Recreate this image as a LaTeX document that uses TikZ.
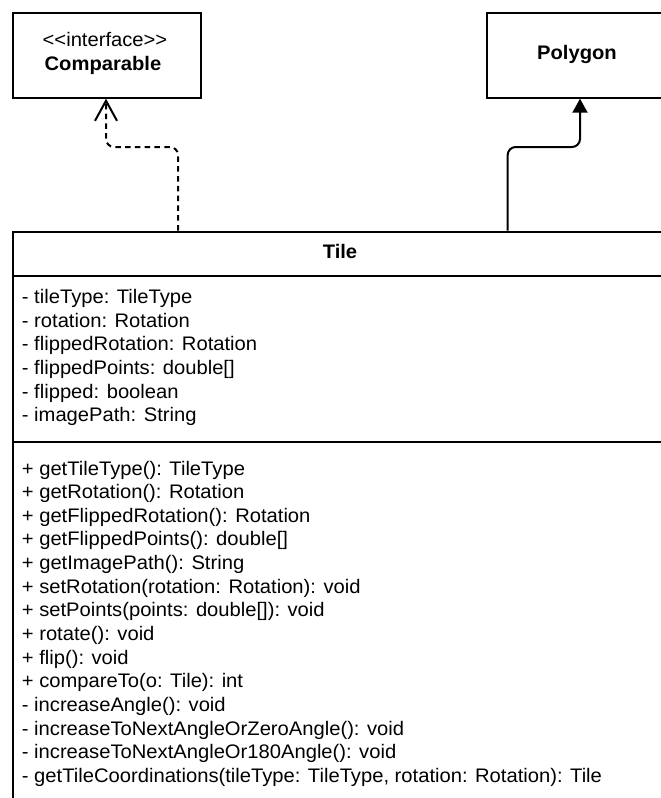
\documentclass[tikz,border=0pt]{standalone}
\usepackage{fontspec}
\setmainfont{Liberation Sans}[FakeStretch=1.03]
\usetikzlibrary{arrows.meta}
\begin{document}
\begin{tikzpicture}[x=1pt,y=-1pt,
  box/.style={draw=black, line width=2pt, inner sep=0pt, anchor=north west},
  sep/.style={draw=black, line width=2pt},
  txt/.style={inner sep=0pt, anchor=base west, font=\fontsize{19.6}{23.65}\selectfont},
  ctxt/.style={inner sep=0pt, anchor=base, font=\fontsize{19.6}{23.65}\selectfont},
  btxt/.style={inner sep=0pt, anchor=base, font=\fontsize{19.6}{23.65}\selectfont\bfseries},
  realize/.style={draw=black, line width=2pt, dash pattern=on 5.5pt off 4.3pt, rounded corners=8pt,
    -{Straight Barb[length=20pt,width=22pt,line width=2pt]}},
  inherit/.style={draw=black, line width=2pt, rounded corners=8pt,
    -{Triangle[length=14pt,width=15pt]}}]
\useasboundingbox (0,0) rectangle (661,798);
\clip (0,0) rectangle (661,798);

% classes
\node[box, minimum width=187.7pt, minimum height=84.4pt] (comp) at (12.3,12.3) {};
\node[ctxt] (compst) at (105,46.7) {<\kern0pt<interface>\kern0pt>};
\node[btxt] (compnm) at (103,70.7) {Comparable};

\node[box, minimum width=182.3pt, minimum height=84.4pt] (poly) at (485.7,12.3) {};
\node[btxt] (polynm) at (577,59.3) {Polygon};

\node[box, minimum width=655.7pt, minimum height=620pt] (tile) at (12.3,230.5) {};
\node[btxt] (tilenm) at (340,258) {Tile};
\coordinate (s1l) at (12.3,276);
\coordinate (s1r) at (668,276);
\coordinate (s2l) at (12.3,441.7);
\coordinate (s2r) at (668,441.7);
\draw[sep] (s1l) -- (s1r);
\draw[sep] (s2l) -- (s2r);

% attributes
\node[txt] (a1) at (21.7,303.4) {- tileType: TileType};
\node[txt] (a2) at (21.7,327.05) {- rotation: Rotation};
\node[txt] (a3) at (21.7,350.7) {- flippedRotation: Rotation};
\node[txt] (a4) at (21.7,374.35) {- flippedPoints: double[]};
\node[txt] (a5) at (21.7,398.0) {- flipped: boolean};
\node[txt] (a6) at (21.7,421.65) {- imagePath: String};

% methods
\node[txt] (m1) at (21.7,475.0) {+ getTileType(): TileType};
\node[txt] (m2) at (21.7,498.65) {+ getRotation(): Rotation};
\node[txt] (m3) at (21.7,522.3) {+ getFlippedRotation(): Rotation};
\node[txt] (m4) at (21.7,545.95) {+ getFlippedPoints(): double[]};
\node[txt] (m5) at (21.7,569.6) {+ getImagePath(): String};
\node[txt] (m6) at (21.7,593.25) {+ setRotation(rotation: Rotation): void};
\node[txt] (m7) at (21.7,616.9) {+ setPoints(points: double[]): void};
\node[txt] (m8) at (21.7,640.55) {+ rotate(): void};
\node[txt] (m9) at (21.7,664.2) {+ flip(): void};
\node[txt] (m10) at (21.7,687.85) {+ compareTo(o: Tile): int};
\node[txt] (m11) at (21.7,711.5) {- increaseAngle(): void};
\node[txt] (m12) at (21.7,735.15) {- increaseToNextAngleOrZeroAngle(): void};
\node[txt] (m13) at (21.7,758.8) {- increaseToNextAngleOr180Angle(): void};
\node[txt] (m14) at (21.7,782.45) {- getTileCoordinations(tileType: TileType, rotation: Rotation): Tile};

% connectors
\draw[realize] (tile.north west -| 178,0) -- (178,147) -- (106,147) -- (comp.south west -| 106,0);
\draw[inherit] (tile.north west -| 507.7,0) -- (507.7,147) -- (580,147) -- (poly.south west -| 580,0);
\end{tikzpicture}
\end{document}
